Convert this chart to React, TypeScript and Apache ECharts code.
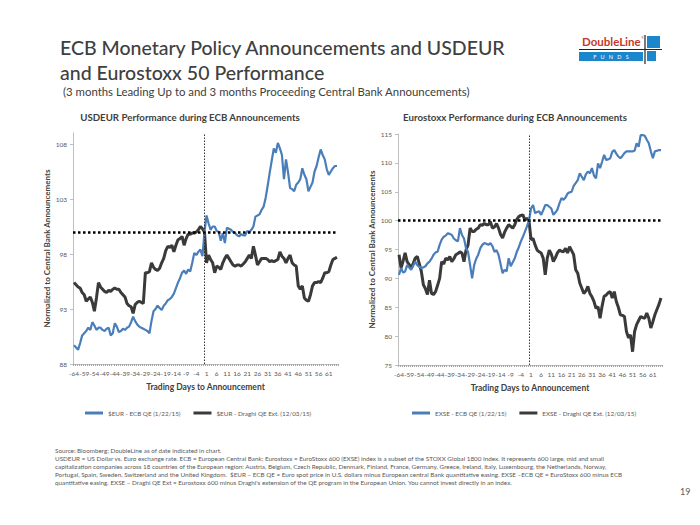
import React, { useEffect, useRef } from "react";
import * as echarts from "echarts";

const days = [
  "-64","-63","-62","-61","-60","-59","-58","-57","-56","-55","-54","-53","-52","-51","-50","-49","-48","-47","-46","-45",
  "-44","-43","-42","-41","-40","-39","-38","-37","-36","-35","-34","-33","-32","-31","-30","-29","-28","-27","-26","-25",
  "-24","-23","-22","-21","-20","-19","-18","-17","-16","-15","-14","-13","-12","-11","-10","-9","-8","-7","-6","-5",
  "-4","-3","-2","-1","0","1","2","3","4","5","6","7","8","9","10","11","12","13","14","15",
  "16","17","18","19","20","21","22","23","24","25","26","27","28","29","30","31","32","33","34","35",
  "36","37","38","39","40","41","42","43","44","45","46","47","48","49","50","51","52","53","54","55",
  "56","57","58","59","60","61","62","63","64","65"
];

const usdEcb = [
  89.7, 89.5, 89.3, 89.9, 90.6, 90.8, 91.0, 91.3, 91.1, 91.8,
  91.5, 91.1, 91.3, 91.3, 91.1, 91.0, 91.2, 91.3, 90.6, 90.8,
  91.7, 91.4, 90.9, 91.0, 91.2, 91.1, 91.3, 91.4, 91.8, 92.3,
  91.9, 91.6, 91.4, 91.3, 91.2, 91.1, 91.0, 90.8, 91.9, 92.8,
  93.0, 93.3, 93.1, 92.9, 93.3, 93.5, 93.8, 93.9, 94.1, 94.4,
  94.9, 95.4, 95.8, 96.3, 96.5, 96.2, 96.6, 96.4, 97.2, 98.1,
  97.9, 98.2, 98.4, 97.8, 100.0, 101.5, 100.8, 100.2, 100.5, 100.5,
  100.1, 100.0, 99.2, 99.9, 99.0, 100.4, 100.3, 100.2, 100.0, 99.9,
  99.7, 99.6, 99.8, 99.7, 99.7, 100.1, 100.0, 100.2, 100.5, 101.4,
  101.5, 101.6, 102.0, 102.3, 103.1, 104.2, 105.4, 106.5, 107.6, 107.2,
  108.1, 107.6, 107.0, 104.8, 106.6, 105.4, 104.0, 103.9, 103.7, 104.3,
  104.5, 104.8, 105.8, 105.2, 104.8, 103.7, 104.1, 104.5, 105.5, 106.0,
  106.8, 107.5, 107.0, 106.6, 105.7, 105.2, 105.5, 105.8, 106.0, 106.0
];

const usdDraghi = [
  95.4, 95.2, 95.0, 94.9, 94.5, 94.3, 93.7, 93.9, 94.1, 93.6,
  92.8, 94.0, 95.4, 95.0, 94.8, 94.6, 94.5, 94.7, 94.6, 94.8,
  94.9, 94.8, 94.8, 94.5, 94.3, 94.1, 93.5, 93.3, 93.2, 92.6,
  93.4, 93.6, 93.7, 93.6, 93.5, 96.3, 96.3, 96.4, 97.2, 96.8,
  96.6, 96.5, 96.7, 97.2, 97.6, 98.3, 98.7, 98.6, 98.8, 98.2,
  98.8, 99.3, 99.4, 99.6, 98.8, 99.4, 99.8, 99.8, 99.9, 99.9,
  100.0, 100.2, 100.5, 100.3, 100.0, 97.2, 97.9, 97.5, 97.2, 96.3,
  96.9, 96.8, 96.6, 97.2, 97.6, 97.9, 97.6, 97.3, 97.0, 96.9,
  97.0, 97.0, 96.9, 97.1, 97.3, 97.6, 97.9, 97.6, 98.7, 97.9,
  97.0, 97.3, 97.6, 97.6, 97.6, 97.5, 97.3, 97.4, 97.3, 97.4,
  97.5, 98.2, 97.8, 97.6, 97.2, 97.6, 97.9, 97.2, 97.0, 96.9,
  95.1, 94.8, 95.1, 94.0, 93.8, 93.7, 94.3, 95.1, 95.4, 95.4,
  95.5, 95.4, 95.8, 96.3, 96.3, 96.4, 97.0, 97.5, 97.6, 97.7
];

const exseEcb = [
  90.6, 91.8, 91.0, 91.2, 92.3, 91.9, 91.5, 92.2, 92.9, 92.3,
  92.0, 91.8, 91.9, 92.1, 92.6, 92.9, 93.4, 94.1, 94.5, 94.6,
  95.8, 96.7, 97.2, 97.4, 97.8, 97.7, 97.5, 96.9, 96.6, 96.4,
  98.7, 97.5, 96.9, 95.2, 94.6, 92.3, 90.0, 92.3, 93.4, 94.1,
  95.2, 95.8, 96.1, 96.0, 95.8, 96.1, 95.6, 94.6, 94.9, 94.1,
  92.5, 90.9, 91.5, 91.2, 93.5, 92.1, 92.8, 93.5, 94.6, 95.4,
  96.4, 97.2, 98.1, 99.0, 100.0, 102.1, 102.7, 101.3, 101.5, 101.6,
  101.0, 101.8, 102.7, 102.7, 102.4, 102.1, 101.0, 101.4, 101.9, 103.0,
  103.9, 103.6, 104.0, 104.7, 104.9, 105.0, 106.0, 106.5, 107.0, 108.2,
  107.6, 107.0, 108.0, 108.5, 108.2, 109.1, 107.8, 107.3, 109.9, 109.1,
  110.2, 111.4, 110.5, 110.6, 110.8, 111.9, 112.2, 111.6, 111.1, 110.8,
  111.2, 111.7, 112.0, 112.0, 112.0, 112.0, 112.1, 113.4, 112.8, 114.8,
  114.8, 114.7, 114.0, 113.4, 112.0, 110.8, 112.0, 112.1, 112.2, 112.2
];

const exseDraghi = [
  94.1, 91.8, 93.0, 94.4, 92.9, 92.4, 91.8, 92.6, 93.5, 93.8,
  92.5, 91.2, 88.9, 88.2, 87.2, 89.7, 87.4, 87.2, 87.7, 88.8,
  90.0, 92.9, 92.5, 93.5, 93.2, 93.8, 92.9, 93.4, 94.1, 94.3,
  94.6, 94.4, 92.9, 94.9, 95.8, 98.7, 98.1, 98.1, 98.5, 98.7,
  99.3, 99.2, 99.5, 99.3, 99.3, 99.8, 98.7, 98.9, 99.5, 98.7,
  97.6, 97.0, 98.0, 98.7, 99.3, 99.0, 98.7, 99.3, 100.2, 100.7,
  100.9, 101.0, 100.1, 100.4, 100.0, 96.7, 96.9, 95.8, 94.9, 94.6,
  94.4, 93.5, 90.6, 93.5, 94.9, 94.2, 92.9, 93.6, 94.4, 94.9,
  94.7, 94.6, 95.2, 94.4, 95.5, 94.8, 94.1, 91.5, 90.9, 89.2,
  88.3, 87.4, 87.8, 88.6, 87.4, 86.8, 86.0, 84.8, 85.1, 83.1,
  85.2, 86.9, 87.1, 87.5, 87.7, 86.6, 87.7, 86.0, 85.0, 83.7,
  83.6, 83.4, 80.8, 79.7, 80.2, 77.3, 80.8, 82.0, 82.7, 83.4,
  83.2, 83.1, 84.0, 83.1, 81.4, 82.5, 83.7, 84.6, 85.5, 86.6
];

const leftNames = ["$EUR - ECB QE (1/22/15)", "$EUR - Draghi QE Ext. (12/03/15)"];
const rightNames = ["EXSE - ECB QE (1/22/15)", "EXSE - Draghi QE Ext. (12/03/15)"];

const footnote = [
  "Source: Bloomberg; DoubleLine as of date indicated in chart.",
  "USDEUR = US Dollar vs. Euro exchange rate. ECB = European Central Bank; Eurostoxx = EuroStoxx 600 (EXSE) index is a subset of the STOXX Global 1800 Index. It represents 600 large, mid and small",
  "capitalization companies across 18 countries of the European region: Austria, Belgium, Czech Republic, Denmark, Finland, France, Germany, Greece, Ireland, Italy, Luxembourg, the Netherlands, Norway,",
  "Portugal, Spain, Sweden, Switzerland and the United Kingdom.  $EUR \u2013 ECB QE = Euro spot price in U.S. dollars minus European central Bank quantitative easing. EXSE \u2013ECB QE = EuroStoxx 600 minus ECB",
  "quantitative easing. EXSE \u2013 Draghi QE Ext = Eurostoxx 600 minus Draghi's extension of the QE program in the European Union. You cannot invest directly in an index."
];

const FONT = "Lato, 'Open Sans', sans-serif";
const BLUE = "#4a7ebb";
const DARK = "#3a3a3a";
const GRAY = "#595959";

function xAxisCfg(gridIndex: number) {
  return {
    type: "category",
    gridIndex,
    data: days,
    boundaryGap: true,
    name: "Trading Days to Announcement",
    nameLocation: "middle",
    nameGap: 18,
    nameTextStyle: { fontFamily: FONT, fontSize: 8.5, fontWeight: "bold", color: "#404040" },
    axisLine: { lineStyle: { color: "#bfbfbf", width: 1 } },
    axisTick: { show: true, interval: 0, length: 2, lineStyle: { color: "#a6a6a6" } },
    axisLabel: { interval: 4, fontFamily: FONT, fontSize: 6.5, color: GRAY, margin: 6 },
    splitLine: { show: false },
  };
}

function yAxisCfg(gridIndex: number, min: number, max: number, showMax: boolean) {
  return {
    type: "value",
    gridIndex,
    min,
    max,
    interval: 5,
    name: "Normalized to Central Bank Announcements",
    nameLocation: "middle",
    nameRotate: 90,
    nameGap: 22,
    nameTextStyle: { fontFamily: FONT, fontSize: 8, fontWeight: "bold", color: "#404040" },
    axisLine: { show: true, lineStyle: { color: "#bfbfbf", width: 1 } },
    axisTick: { show: true, length: 3, lineStyle: { color: "#bfbfbf" } },
    axisLabel: { fontFamily: FONT, fontSize: 6.5, color: GRAY, margin: 6, showMaxLabel: showMax },
    splitLine: { show: false },
  };
}

function markLines() {
  return {
    silent: true,
    symbol: "none",
    label: { show: false },
    data: [
      { yAxis: 100, lineStyle: { color: "#000", width: 2.5, type: [2.5, 2.5] } },
      { xAxis: "0", lineStyle: { color: "#333", width: 1, type: [1.5, 1.5] } },
    ],
  };
}

export default function App() {
  const ref = useRef<HTMLDivElement>(null);
  useEffect(() => {
    if (!ref.current) return;
    const chart = echarts.init(ref.current, undefined, { renderer: "svg" });
    const legendText = { fontFamily: FONT, fontSize: 6.3, color: GRAY };
    chart.setOption({
      animation: false,
      backgroundColor: "#ffffff",
      textStyle: { fontFamily: FONT },
      grid: [
        { left: 73, right: 362, top: 133, bottom: 161, containLabel: false },
        { left: 398, right: 38, top: 134, bottom: 160, containLabel: false },
      ],
      xAxis: [xAxisCfg(0), xAxisCfg(1)],
      yAxis: [yAxisCfg(0, 88, 109, false), yAxisCfg(1, 75, 115, true)],
      legend: [
        {
          data: leftNames,
          left: 80,
          top: 405,
          itemWidth: 18,
          itemHeight: 3,
          itemGap: 13,
          icon: "rect",
          textStyle: legendText,
        },
        {
          data: rightNames,
          left: 407,
          top: 405,
          itemWidth: 18,
          itemHeight: 3,
          itemGap: 13,
          icon: "rect",
          textStyle: legendText,
        },
      ],
      series: [
        {
          name: leftNames[0], type: "line", xAxisIndex: 0, yAxisIndex: 0, data: usdEcb,
          showSymbol: false, lineStyle: { color: BLUE, width: 2.2 }, itemStyle: { color: BLUE },
          markLine: markLines(), z: 3,
        },
        {
          name: leftNames[1], type: "line", xAxisIndex: 0, yAxisIndex: 0, data: usdDraghi,
          showSymbol: false, lineStyle: { color: DARK, width: 3 }, itemStyle: { color: DARK }, z: 2,
        },
        {
          name: rightNames[0], type: "line", xAxisIndex: 1, yAxisIndex: 1, data: exseEcb,
          showSymbol: false, lineStyle: { color: BLUE, width: 2.2 }, itemStyle: { color: BLUE },
          markLine: markLines(), z: 3,
        },
        {
          name: rightNames[1], type: "line", xAxisIndex: 1, yAxisIndex: 1, data: exseDraghi,
          showSymbol: false, lineStyle: { color: DARK, width: 3 }, itemStyle: { color: DARK }, z: 2,
        },
      ],
      graphic: [
        { type: "text", left: 60, top: 37, style: { text: "ECB Monetary Policy Announcements and USDEUR", fontFamily: FONT, fontSize: 19.5, fontWeight: 500, fill: "#404040" } },
        { type: "text", left: 60, top: 62, style: { text: "and Eurostoxx 50 Performance", fontFamily: FONT, fontSize: 19.5, fontWeight: 500, fill: "#404040" } },
        { type: "text", left: 63, top: 86, style: { text: "(3 months Leading Up to and 3 months Proceeding Central Bank Announcements)", fontFamily: FONT, fontSize: 11.4, fill: "#404040" } },
        { type: "text", x: 190, y: 117, style: { text: "USDEUR Performance during ECB Announcements", fontFamily: FONT, fontSize: 9.7, fontWeight: "bold", fill: "#404040", align: "center", verticalAlign: "middle" } },
        { type: "text", x: 515, y: 117, style: { text: "Eurostoxx Performance during ECB Announcements", fontFamily: FONT, fontSize: 9.7, fontWeight: "bold", fill: "#404040", align: "center", verticalAlign: "middle" } },
        // logo
        { type: "rect", shape: { x: 579, y: 52, width: 64, height: 9 }, style: { fill: "#1b86cc" } },
        { type: "rect", shape: { x: 647, y: 36, width: 13, height: 12 }, style: { fill: "#1b86cc" } },
        { type: "rect", shape: { x: 647, y: 51, width: 9, height: 10 }, style: { fill: "#1b86cc" } },
        { type: "line", shape: { x1: 645, y1: 35, x2: 645, y2: 64 }, style: { stroke: "#222", lineWidth: 1.2 } },
        { type: "line", shape: { x1: 579, y1: 49.5, x2: 662, y2: 49.5 }, style: { stroke: "#222", lineWidth: 1.2 } },
        { type: "text", left: 582, top: 35, style: { text: "DoubleLine", fontFamily: FONT, fontSize: 11.5, fontWeight: "bold", fill: "#c33a2c" } },
        { type: "text", left: 641, top: 35, style: { text: "\u00ae", fontFamily: FONT, fontSize: 4, fill: "#c33a2c" } },
        { type: "text", x: 611, y: 56.5, style: { text: "F   U   N   D   S", fontFamily: FONT, fontSize: 5.5, fill: "#ffffff", align: "center", verticalAlign: "middle" } },
        // footnote
        ...footnote.map((t, i) => ({
          type: "text", left: 55, top: 447 + i * 8,
          style: { text: t, fontFamily: FONT, fontSize: 6.3, fill: "#595959" },
        })),
        { type: "text", left: 680, top: 487, style: { text: "19", fontFamily: FONT, fontSize: 9, fill: "#595959" } },
      ],
    });
    return () => chart.dispose();
  }, []);
  return <div ref={ref} style={{ position: "absolute", left: 0, top: 0, width: 700, height: 525 }} />;
}
